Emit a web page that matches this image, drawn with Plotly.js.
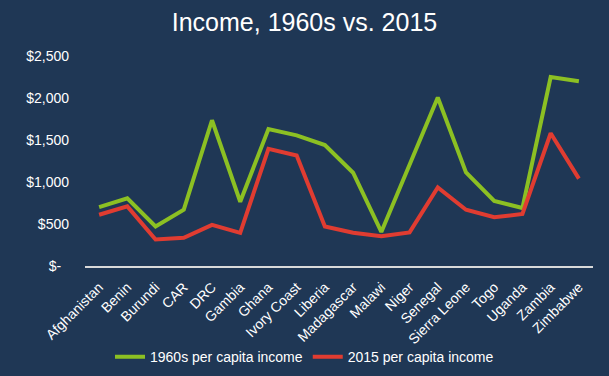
<!DOCTYPE html>
<html>
<head>
<meta charset="utf-8">
<script src="https://cdn.plot.ly/plotly-3.0.1.min.js"></script>
<style>html,body{margin:0;padding:0;background:#1f3755;}#chart{width:609px;height:376px;}</style>
</head>
<body>
<div id="chart"></div>
<script>
const countries = ["Afghanistan","Benin","Burundi","CAR","DRC","Gambia","Ghana","Ivory Coast","Liberia","Madagascar","Malawi","Niger","Senegal","Sierra Leone","Togo","Uganda","Zambia","Zimbabwe"];
const income1960s = [700, 805, 470, 670, 1735, 765, 1630, 1555, 1440, 1110, 405, 1195, 2005, 1115, 775, 690, 2250, 2200];
const income2015 = [610, 710, 315, 335, 490, 395, 1395, 1315, 470, 395, 355, 400, 935, 670, 580, 620, 1580, 1040];
const yTickVals = [0, 500, 1000, 1500, 2000, 2500];
const yTickText = ["$-&nbsp;&nbsp;", "$500", "$1,000", "$1,500", "$2,000", "$2,500"];

const font = "Liberation Sans, Arial, sans-serif";
const traces = [
  {x: countries, y: income1960s, type: "scatter", mode: "lines", name: "1960s per capita income",
   line: {color: "#8cc023", width: 4}},
  {x: countries, y: income2015, type: "scatter", mode: "lines", name: "2015 per capita income",
   line: {color: "#e03c31", width: 4}}
];
const layout = {
  width: 609, height: 376,
  paper_bgcolor: "#1f3755", plot_bgcolor: "#1f3755",
  margin: {l: 85, r: 16, t: 56, b: 110},
  title: {text: "Income, 1960s vs. 2015", font: {family: font, size: 25, color: "#ffffff"}, x: 0.5, xanchor: "center", y: 0.94, yanchor: "middle"},
  font: {family: font, color: "#ffffff", size: 14},
  xaxis: {type: "category", tickangle: -45, showgrid: false, zeroline: false, showline: true, linecolor: "#d9d9d9", linewidth: 1.5,
          ticks: "", tickfont: {family: font, size: 14, color: "#ffffff"}, range: [-0.5, 17.5], automargin: false, ticklabelstandoff: 6},
  yaxis: {range: [0, 2500], tickvals: yTickVals, ticktext: yTickText, showgrid: false, zeroline: false, showline: false,
          ticks: "", ticklen: 0, tickfont: {family: font, size: 14, color: "#ffffff"}, ticklabelstandoff: 15, automargin: false},
  showlegend: true,
  legend: {orientation: "h", x: 0.5, xanchor: "center", xref: "container", yref: "container", y: 0.05, yanchor: "middle",
           font: {family: font, size: 14, color: "#ffffff"}, itemwidth: 30, bgcolor: "rgba(0,0,0,0)"}
};
Plotly.newPlot("chart", traces, layout, {displayModeBar: false, staticPlot: true});
</script>
</body>
</html>
